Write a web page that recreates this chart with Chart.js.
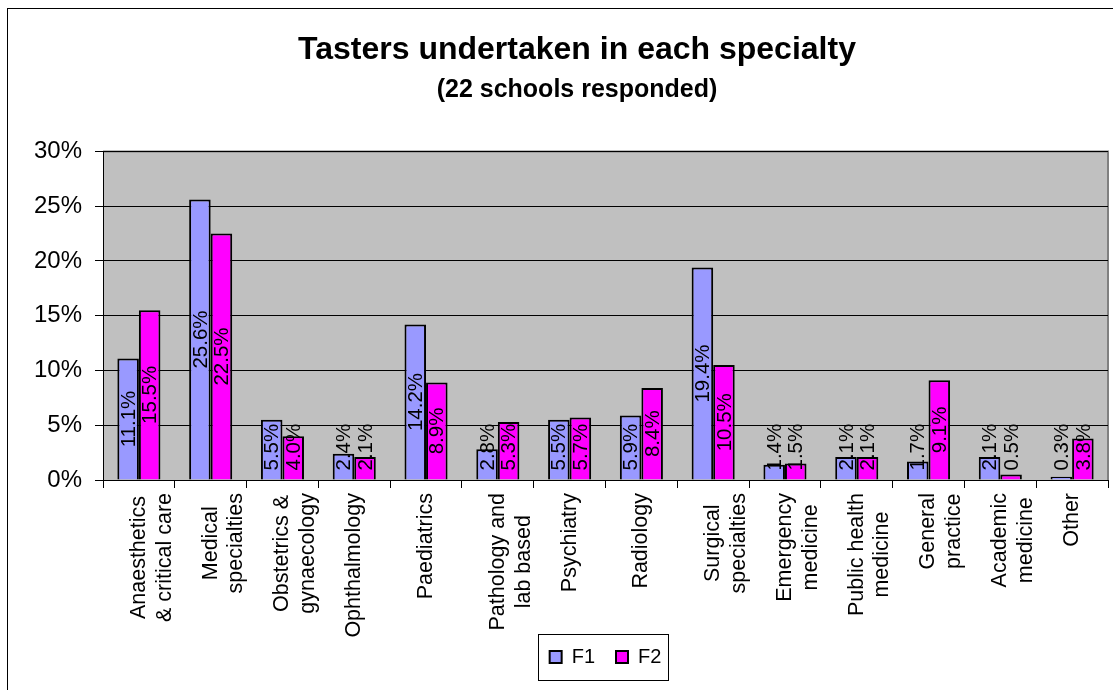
<!DOCTYPE html>
<html>
<head>
<meta charset="utf-8">
<script src="https://cdn.jsdelivr.net/npm/chart.js@4"></script>
<style>
  html, body { margin: 0; padding: 0; background: #fff; }
  #wrap { width: 1113px; height: 690px; }
</style>
</head>
<body>
<div id="wrap"><canvas id="tastersChart" width="1113" height="690"></canvas></div>
<script>
// === Data ===
const specialties = [
  ['Anaesthetics', '& critical care'],
  ['Medical', 'specialties'],
  ['Obstetrics &', 'gynaecology'],
  'Ophthalmology',
  'Paediatrics',
  ['Pathology and', 'lab based'],
  'Psychiatry',
  'Radiology',
  ['Surgical', 'specialties'],
  ['Emergency', 'medicine'],
  ['Public health', 'medicine'],
  ['General', 'practice'],
  ['Academic', 'medicine'],
  'Other'
];
const f1Values = [11.1, 25.6, 5.5, 2.4, 14.2, 2.8, 5.5, 5.9, 19.4, 1.4, 2.1, 1.7, 2.1, 0.3];
const f2Values = [15.5, 22.5, 4.0, 2.1, 8.9, 5.3, 5.7, 8.4, 10.5, 1.5, 2.1, 9.1, 0.5, 3.8];
const yTicks = [0, 5, 10, 15, 20, 25, 30];

const FONT = 'Liberation Sans, Arial, sans-serif';

// frame + grey plot background
const backdrop = {
  id: 'backdrop',
  beforeDraw(chart) {
    const c = chart.ctx, a = chart.chartArea;
    c.save();
    c.fillStyle = '#fff';
    c.fillRect(0, 0, chart.width, chart.height);
    c.strokeStyle = '#000';
    c.lineWidth = 1;
    c.strokeRect(7.5, 8.5, chart.width + 10, chart.height + 10);
    c.fillStyle = '#c0c0c0';
    c.fillRect(a.left, a.top, a.right - a.left, a.bottom - a.top);
    c.strokeStyle = '#808080';
    c.lineWidth = 2;
    c.beginPath();
    c.moveTo(a.left, a.top);
    c.lineTo(a.right, a.top);
    c.lineTo(a.right, a.bottom);
    c.stroke();
    c.restore();
  }
};

// rotated value labels inside the bars
const barLabels = {
  id: 'barLabels',
  afterDatasetsDraw(chart) {
    const c = chart.ctx;
    c.save();
    c.font = '20.5px ' + FONT;
    c.fillStyle = '#000';
    c.textAlign = 'center';
    c.textBaseline = 'middle';
    chart.data.datasets.forEach((ds, i) => {
      chart.getDatasetMeta(i).data.forEach((bar, j) => {
        const txt = ds.data[j].toFixed(1) + '%';
        const w = c.measureText(txt).width;
        let cy = (bar.y + bar.base) / 2;
        if (cy + w / 2 > bar.base - 9) cy = bar.base - 9 - w / 2;
        c.save();
        c.translate(bar.x, cy);
        c.rotate(-Math.PI / 2);
        c.fillText(txt, 0, 1);
        c.restore();
      });
    });
    c.restore();
  }
};

// small layout nudges: titles a bit right, legend tucked under the labels,
// two-line category labels centred on each other
const tweaks = {
  id: 'tweaks',
  afterLayout(chart) {
    chart.boxes.forEach(b => {
      if (b.options && typeof b.options.text === 'string') {
        b.left += 19;
        b.right += 19;
      }
    });
    chart.legend.top -= 12;
    chart.legend.bottom -= 12;
  },
  afterUpdate(chart) {
    const s = chart.scales.x;
    const c = chart.ctx;
    c.save();
    s.getLabelItems(chart.chartArea).forEach(it => {
      if (!Array.isArray(it.label)) return;
      c.font = it.font.string;
      const w = Math.max(...it.label.map(t => c.measureText(t).width));
      it.options.textAlign = 'center';
      it.options.translation = [it.options.translation[0], it.options.translation[1] + w / 2];
    });
    c.restore();
  },
  afterDraw(chart) {
    const boxes = chart.legend.legendHitBoxes;
    if (!boxes || !boxes.length) return;
    const l = Math.min(...boxes.map(b => b.left)) - 12;
    const r = Math.max(...boxes.map(b => b.left + b.width)) + 6;
    const t = Math.min(...boxes.map(b => b.top)) - 13;
    const b = Math.max(...boxes.map(b => b.top + b.height)) + 13;
    const c = chart.ctx;
    c.save();
    c.strokeStyle = '#000';
    c.lineWidth = 1;
    c.strokeRect(Math.round(l) + 0.5, Math.round(t) + 0.5, Math.round(r - l), Math.round(b - t));
    c.restore();
  }
};

new Chart(document.getElementById('tastersChart'), {
  type: 'bar',
  data: {
    labels: specialties,
    datasets: [
      { label: 'F1', data: f1Values, backgroundColor: '#9999ff', borderColor: '#000', borderWidth: 2 },
      { label: 'F2', data: f2Values, backgroundColor: '#ff00ff', borderColor: '#000', borderWidth: 2 }
    ]
  },
  options: {
    responsive: false,
    animation: false,
    layout: { padding: { left: 8, right: 5, top: 0, bottom: 1 } },
    datasets: { bar: { categoryPercentage: 0.6, barPercentage: 1.0 } },
    plugins: {
      title: {
        display: true,
        text: 'Tasters undertaken in each specialty',
        color: '#000',
        font: { family: FONT, size: 32, weight: 'bold' },
        padding: { top: 31, bottom: 3 }
      },
      subtitle: {
        display: true,
        text: '(22 schools responded)',
        color: '#000',
        font: { family: FONT, size: 25, weight: 'bold' },
        padding: { top: 3, bottom: 46 }
      },
      legend: {
        position: 'bottom',
        fullSize: false,
        labels: {
          color: '#000',
          font: { family: FONT, size: 20 },
          boxWidth: 12,
          boxHeight: 12,
          padding: 21
        }
      },
      tooltip: { enabled: false }
    },
    scales: {
      x: {
        grid: { display: true, drawOnChartArea: false, color: '#000', tickLength: 8, offset: true },
        border: { color: '#000', width: 1 },
        ticks: {
          color: '#000',
          font: { family: FONT, size: 21.5 },
          minRotation: 90,
          maxRotation: 90,
          autoSkip: false,
          padding: 5
        },
        afterFit(scale) { scale.height = 158; }
      },
      y: {
        min: 0,
        max: 30,
        afterBuildTicks(scale) { scale.ticks = yTicks.map(v => ({ value: v })); },
        grid: { color: '#000', tickLength: 8 },
        border: { color: '#000', width: 1 },
        ticks: {
          color: '#000',
          font: { family: FONT, size: 24 },
          padding: 13,
          callback: v => v + '%'
        },
        afterFit(scale) { scale.width = 95; }
      }
    }
  },
  plugins: [backdrop, barLabels, tweaks]
});
</script>
</body>
</html>
